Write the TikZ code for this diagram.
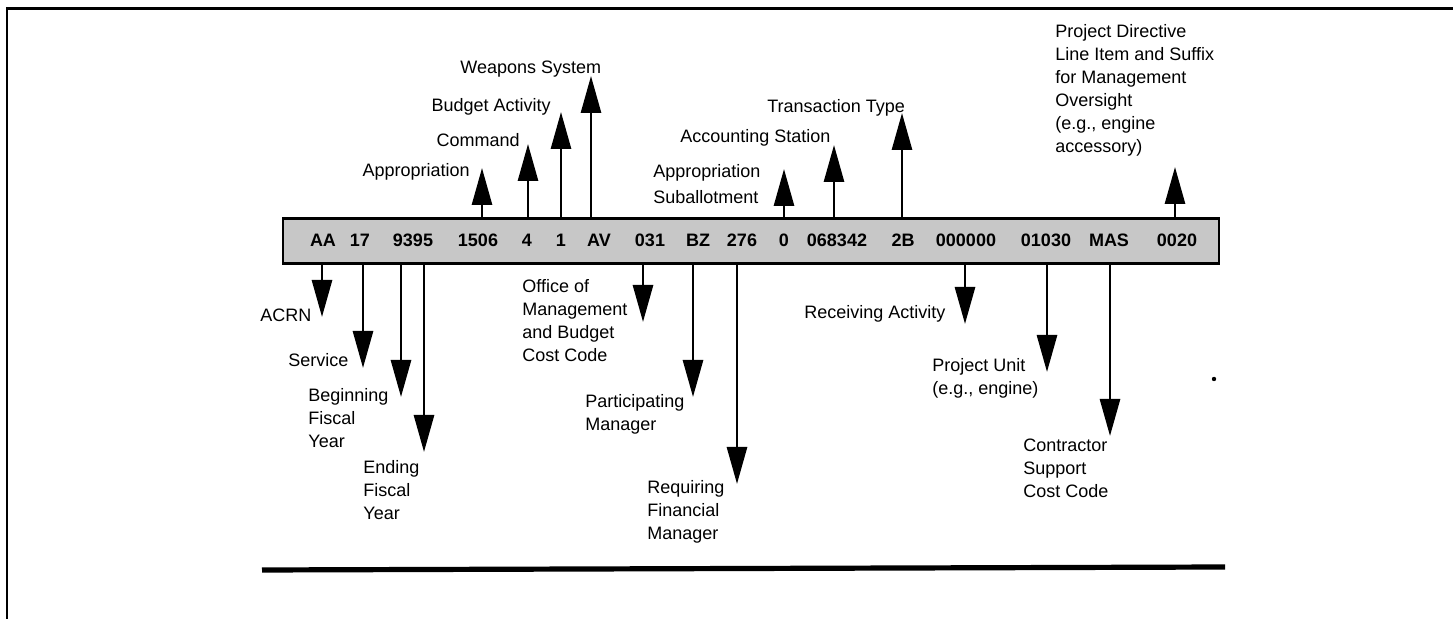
\documentclass[tikz,border=0pt]{standalone}
\usepackage{fontspec}
\setmainfont{Liberation Sans}
\usetikzlibrary{positioning,arrows.meta}

\begin{document}
\begin{tikzpicture}[
  x=0.5pt, y=-0.5pt,
  codebar/.style={rectangle, draw, line width=1.3pt, fill=black!22,
    minimum width=468pt, minimum height=22.5pt, inner sep=0pt},
  field/.style={font=\bfseries\fontsize{9}{11}\selectfont,
    inner sep=0pt, anchor=base},
  lbl/.style={font=\fontsize{9}{11.5}\selectfont,
    inner sep=0pt, align=left},
  arr/.style={-{Triangle[length=18.5pt, width=10pt]}, line width=1.4pt}
]
\useasboundingbox (0,0) rectangle (1453,619);
% frame and bottom rule
\draw[line width=1.2pt] (7,619) -- (7,8.5) -- (1453,8.5);
\draw[line width=2.6pt] (262,570) -- (1225,567);
\fill (1214,379) circle (1.1pt);

% the code bar
\node[codebar] (bar) at (751,241) {};
\node[field] (fAA)   at (323,247)  {AA};
\node[field] (f17)   at (360,247)  {17};
\node[field] (f9395) at (413,247)  {9395};
\node[field] (f1506) at (478,247)  {1506};
\node[field] (f4)    at (527,247)  {4};
\node[field] (f1)    at (561,247)  {1};
\node[field] (fAV)   at (599,247)  {AV};
\node[field] (f031)  at (650,247)  {031};
\node[field] (fBZ)   at (698,247)  {BZ};
\node[field] (f276)  at (742,247)  {276};
\node[field] (f0)    at (784,247)  {0};
\node[field] (f068)  at (837,247)  {068342};
\node[field] (f2B)   at (903,247)  {2B};
\node[field] (f000)  at (966,247)  {000000};
\node[field] (f0103) at (1046,247) {01030};
\node[field] (fMAS)  at (1109,247) {MAS};
\node[field] (f0020) at (1177,247) {0020};

% arrow tips
\coordinate (tApp)  at (482,168);
\coordinate (tCmd)  at (528,144);
\coordinate (tBud)  at (561,112);
\coordinate (tWeap) at (591,76);
\coordinate (tSub)  at (784,169);
\coordinate (tAcc)  at (834,145);
\coordinate (tTra)  at (902,113);
\coordinate (tDir)  at (1175,167);
\coordinate (tAcrn) at (322,317);
\coordinate (tSer)  at (363,368);
\coordinate (tBeg)  at (401,397);
\coordinate (tEnd)  at (424,452);
\coordinate (tOff)  at (643,322);
\coordinate (tPar)  at (693,397);
\coordinate (tReq)  at (737,484);
\coordinate (tRec)  at (965,324);
\coordinate (tUni)  at (1047,372);
\coordinate (tCon)  at (1110,436);

% labels above
\node[lbl, anchor=base east] (lApp)  at (470,177) {Appropriation};
\node[lbl, anchor=base east] (lCmd)  at (520,147) {Command};
\node[lbl, anchor=base east] (lBud)  at (551,112) {Budget Activity};
\node[lbl, anchor=base west] (lWeap) at (460,74)  {Weapons System};
\node[lbl, anchor=north west] (lSub) at (653,164)
  {Appropriation\\[1.5pt]Suballotment};
\node[lbl, anchor=base west] (lAcc)  at (680,143) {Accounting Station};
\node[lbl, anchor=base west] (lTra)  at (767,113) {Transaction Type};
\node[lbl, anchor=north west] (lDir) at (1055,24)
  {Project Directive\\Line Item and Suffix\\for Management\\Oversight\\(e.g., engine\\accessory)};

% labels below
\node[lbl, anchor=base west] (lAcrn) at (260,322) {ACRN};
\node[lbl, anchor=base west] (lSer)  at (288,367) {Service};
\node[lbl, anchor=north west] (lBeg) at (308,388) {Beginning\\Fiscal\\Year};
\node[lbl, anchor=north west] (lEnd) at (363,460) {Ending\\Fiscal\\Year};
\node[lbl, anchor=north west] (lOff) at (522,279)
  {Office of\\Management\\and Budget\\Cost Code};
\node[lbl, anchor=north west] (lPar) at (585,394) {Participating\\Manager};
\node[lbl, anchor=north west] (lReq) at (647,480)
  {Requiring\\Financial\\Manager};
\node[lbl, anchor=base west] (lRec)  at (804,319) {Receiving Activity};
\node[lbl, anchor=north west] (lUni) at (932,358) {Project Unit\\(e.g., engine)};
\node[lbl, anchor=north west] (lCon) at (1023,439)
  {Contractor\\Support\\Cost Code};

% arrows up
\draw[arr] (tApp |- bar.north)  -- (tApp);
\draw[arr] (tCmd |- bar.north)  -- (tCmd);
\draw[arr] (tBud |- bar.north)  -- (tBud);
\draw[arr] (tWeap |- bar.north) -- (tWeap);
\draw[arr] (tSub |- bar.north)  -- (tSub);
\draw[arr] (tAcc |- bar.north)  -- (tAcc);
\draw[arr] (tTra |- bar.north)  -- (tTra);
\draw[arr] (tDir |- bar.north)  -- (tDir);
% arrows down
\draw[arr] (tAcrn |- bar.south) -- (tAcrn);
\draw[arr] (tSer |- bar.south)  -- (tSer);
\draw[arr] (tBeg |- bar.south)  -- (tBeg);
\draw[arr] (tEnd |- bar.south)  -- (tEnd);
\draw[arr] (tOff |- bar.south)  -- (tOff);
\draw[arr] (tPar |- bar.south)  -- (tPar);
\draw[arr] (tReq |- bar.south)  -- (tReq);
\draw[arr] (tRec |- bar.south)  -- (tRec);
\draw[arr] (tUni |- bar.south)  -- (tUni);
\draw[arr] (tCon |- bar.south)  -- (tCon);
\end{tikzpicture}
\end{document}
